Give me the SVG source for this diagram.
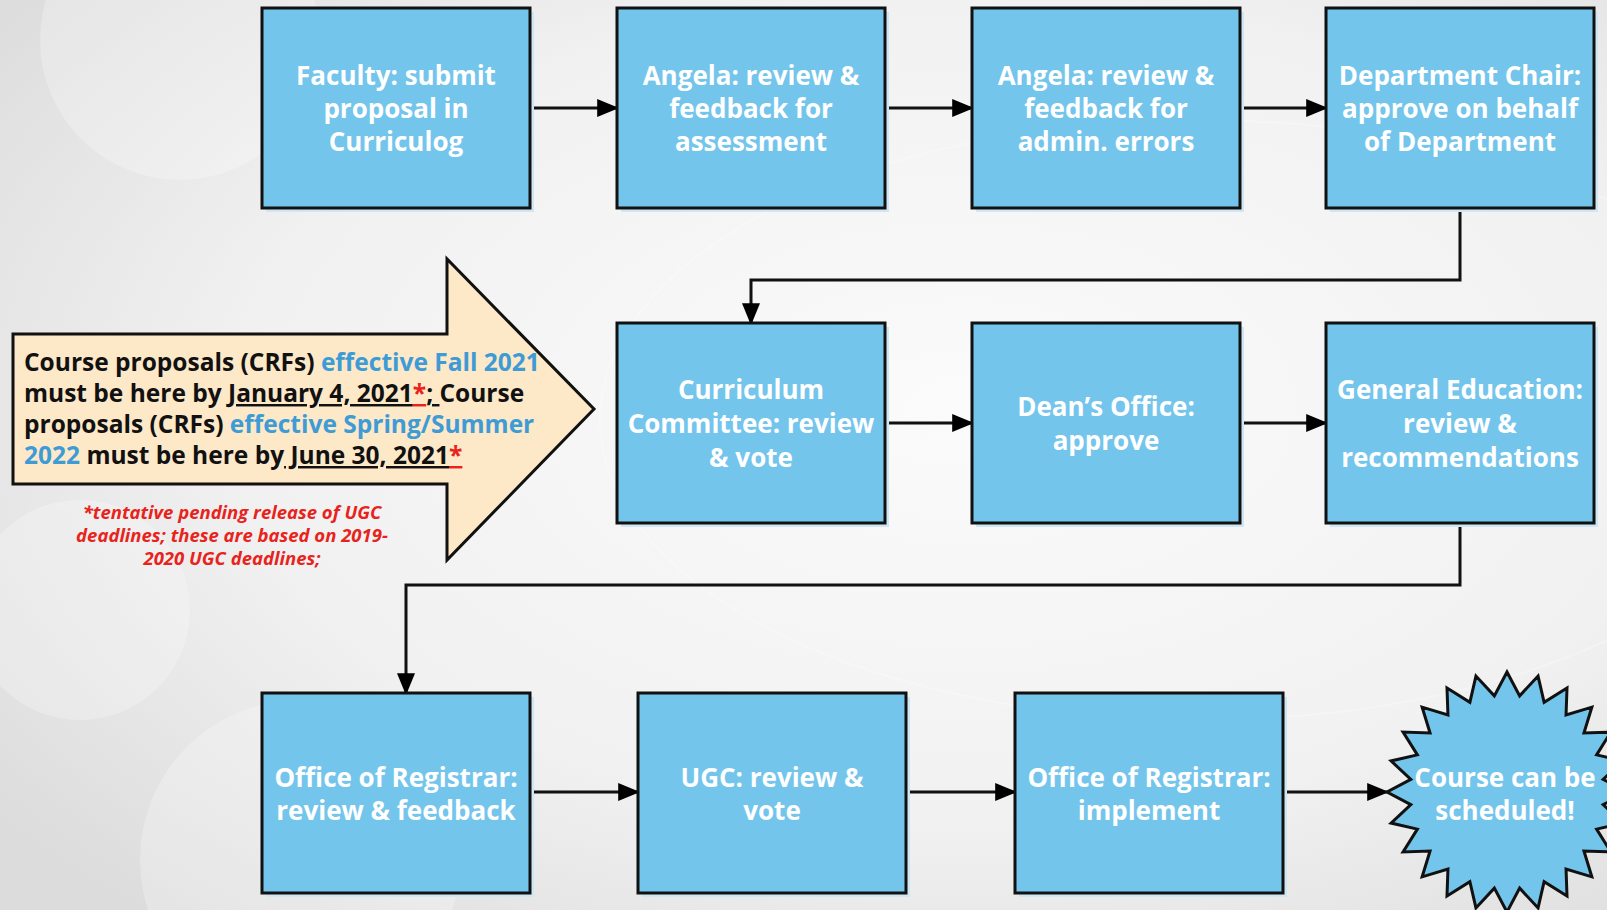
<svg xmlns="http://www.w3.org/2000/svg" width="1607" height="910" viewBox="0 0 1607 910">
<defs>
<radialGradient id="bg" cx="0.6" cy="0.45" r="0.75">
<stop offset="0" stop-color="#fbfbfb"/>
<stop offset="0.6" stop-color="#f1f1f1"/>
<stop offset="1" stop-color="#dcdcdc"/>
</radialGradient>
<marker id="arr" viewBox="0 0 10 10" refX="9" refY="5" markerWidth="22" markerHeight="18" orient="auto" markerUnits="userSpaceOnUse" preserveAspectRatio="none">
<path d="M0,0 L10,5 L0,10 Z" fill="#000"/>
</marker>
</defs>
<style>
.box{fill:#74c5ec;stroke:#111;stroke-width:3}
.sh{fill:#cfe6f3}
.nt{font-family:"Open Sans","DejaVu Sans",sans-serif;font-weight:bold;font-size:26px;fill:#fff;text-anchor:middle;dominant-baseline:central}
.con{fill:none;stroke:#111;stroke-width:3;marker-end:url(#arr)}
.ct{font-family:"Open Sans","DejaVu Sans",sans-serif;font-weight:bold;font-size:24.5px;fill:#111}
.bl{fill:#3d9bd6}
.rd{fill:#e8231c}
.u{text-decoration:underline}
.note{font-family:"Open Sans","DejaVu Sans",sans-serif;font-weight:bold;font-style:italic;font-size:18.5px;fill:#e8231c;text-anchor:middle}
</style>
<rect width="1607" height="910" fill="url(#bg)"/>
<g opacity="0.25" fill="#fff">
<circle cx="180" cy="40" r="140"/>
<circle cx="80" cy="610" r="110"/>
<circle cx="300" cy="860" r="160"/>
<ellipse cx="1200" cy="420" rx="600" ry="300" fill="none" stroke="#fff" stroke-width="2"/>
</g>
<g id="connectors">
<line class="con" x1="530" y1="108" x2="617" y2="108"/>
<line class="con" x1="885" y1="108" x2="972" y2="108"/>
<line class="con" x1="1239" y1="108" x2="1326" y2="108"/>
<polyline class="con" points="1460,208 1460,280 751,280 751,323"/>
<line class="con" x1="885" y1="423" x2="972" y2="423"/>
<line class="con" x1="1239" y1="423" x2="1326" y2="423"/>
<polyline class="con" points="1460,523 1460,585 406,585 406,693"/>
<line class="con" x1="530" y1="792" x2="638" y2="792"/>
<line class="con" x1="906" y1="792" x2="1015" y2="792"/>
<line class="con" x1="1282" y1="792" x2="1387" y2="792"/>
</g>
<g id="n1"><rect class="sh" x="266" y="12" width="268" height="200"/><rect class="box" x="262" y="8" width="268" height="200"/>
<text class="nt" x="396"><tspan x="396" y="75">Faculty: submit</tspan><tspan x="396" y="108">proposal in</tspan><tspan x="396" y="141">Curriculog</tspan></text></g>
<g id="n2"><rect class="sh" x="621" y="12" width="268" height="200"/><rect class="box" x="617" y="8" width="268" height="200"/>
<text class="nt"><tspan x="751" y="75">Angela: review &amp;</tspan><tspan x="751" y="108">feedback for</tspan><tspan x="751" y="141">assessment</tspan></text></g>
<g id="n3"><rect class="sh" x="976" y="12" width="268" height="200"/><rect class="box" x="972" y="8" width="268" height="200"/>
<text class="nt"><tspan x="1106" y="75">Angela: review &amp;</tspan><tspan x="1106" y="108">feedback for</tspan><tspan x="1106" y="141">admin. errors</tspan></text></g>
<g id="n4"><rect class="sh" x="1330" y="12" width="268" height="200"/><rect class="box" x="1326" y="8" width="268" height="200"/>
<text class="nt"><tspan x="1460" y="75">Department Chair:</tspan><tspan x="1460" y="108">approve on behalf</tspan><tspan x="1460" y="141">of Department</tspan></text></g>
<g id="n5"><rect class="sh" x="621" y="327" width="268" height="200"/><rect class="box" x="617" y="323" width="268" height="200"/>
<text class="nt"><tspan x="751" y="389">Curriculum</tspan><tspan x="751" y="423">Committee: review</tspan><tspan x="751" y="457">&amp; vote</tspan></text></g>
<g id="n6"><rect class="sh" x="976" y="327" width="268" height="200"/><rect class="box" x="972" y="323" width="268" height="200"/>
<text class="nt"><tspan x="1106" y="406">Dean’s Office:</tspan><tspan x="1106" y="440">approve</tspan></text></g>
<g id="n7"><rect class="sh" x="1330" y="327" width="268" height="200"/><rect class="box" x="1326" y="323" width="268" height="200"/>
<text class="nt"><tspan x="1460" y="389">General Education:</tspan><tspan x="1460" y="423">review &amp;</tspan><tspan x="1460" y="457">recommendations</tspan></text></g>
<g id="n8"><rect class="sh" x="266" y="697" width="268" height="200"/><rect class="box" x="262" y="693" width="268" height="200"/>
<text class="nt"><tspan x="396" y="777">Office of Registrar:</tspan><tspan x="396" y="810">review &amp; feedback</tspan></text></g>
<g id="n9"><rect class="sh" x="642" y="697" width="268" height="200"/><rect class="box" x="638" y="693" width="268" height="200"/>
<text class="nt"><tspan x="772" y="777">UGC: review &amp;</tspan><tspan x="772" y="810">vote</tspan></text></g>
<g id="n10"><rect class="sh" x="1019" y="697" width="268" height="200"/><rect class="box" x="1015" y="693" width="268" height="200"/>
<text class="nt"><tspan x="1149" y="777">Office of Registrar:</tspan><tspan x="1149" y="810">implement</tspan></text></g>
<g id="n11">
<polygon class="box" points="1507,672 1519.66,695.83 1538.06,676.09 1544.12,702.38 1567,688.08 1566.05,715.05 1591.85,707.15 1583.95,732.95 1610.92,732 1596.62,754.88 1622.91,760.94 1603.17,779.34 1627,792 1603.17,804.66 1622.91,823.06 1596.62,829.12 1610.92,852 1583.95,851.05 1591.85,876.85 1566.05,868.95 1567,895.92 1544.12,881.62 1538.06,907.91 1519.66,888.17 1507,912 1494.34,888.17 1475.94,907.91 1469.88,881.62 1447,895.92 1447.95,868.95 1422.15,876.85 1430.05,851.05 1403.08,852 1417.38,829.12 1391.09,823.06 1410.83,804.66 1387,792 1410.83,779.34 1391.09,760.94 1417.38,754.88 1403.08,732 1430.05,732.95 1422.15,707.15 1447.95,715.05 1447,688.08 1469.88,702.38 1475.94,676.09 1494.34,695.83"/>
<text class="nt"><tspan x="1505" y="777">Course can be</tspan><tspan x="1505" y="810">scheduled!</tspan></text>
</g>
<g id="callout">
<polygon points="13,334 447,334 447,259 594,409 447,560 447,484 13,484" fill="#fde8c8" stroke="#111" stroke-width="3"/>
<text class="ct" x="24" y="371">Course proposals (CRFs) <tspan class="bl">effective Fall 2021</tspan></text>
<text class="ct" x="24" y="402">must be here by <tspan class="u">January 4, 2021</tspan><tspan class="u rd">*</tspan><tspan class="u">; </tspan>Course</text>
<text class="ct" x="24" y="433">proposals (CRFs) <tspan class="bl">effective Spring/Summer</tspan></text>
<text class="ct" x="24" y="464"><tspan class="bl">2022</tspan> must be here by<tspan class="u"> June 30, 2021</tspan><tspan class="u rd">*</tspan></text>
<text class="note"><tspan x="232" y="519">*tentative pending release of UGC</tspan><tspan x="232" y="542">deadlines; these are based on 2019-</tspan><tspan x="232" y="565">2020 UGC deadlines;</tspan></text>
</g>
</svg>
